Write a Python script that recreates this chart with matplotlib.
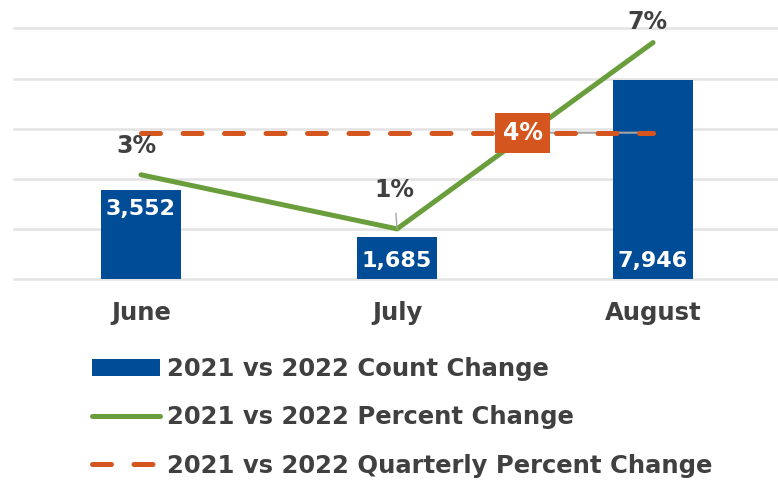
import matplotlib.pyplot as plt
from matplotlib.patches import Patch
from matplotlib.lines import Line2D

# =====================================================
# Data
# =====================================================

months = ["June", "July", "August"]
count_change = [3552, 1685, 7946]
pct_change = [0.028, 0.010, 0.072]
quarterly_pct = [0.042, 0.042, 0.042]

series_names = [
    "2021 vs 2022 Count Change",
    "2021 vs 2022 Percent Change",
    "2021 vs 2022 Quarterly Percent Change",
]

BLUE = "#004C97"
GREEN = "#6A9E3C"
ORANGE = "#D4561E"
TEXT = "#404040"
GRID = "#E3E3E3"
LEADER = "#A6A6A6"
DASH = (3.8, 4.5)

plt.rcParams["font.family"] = "DejaVu Sans"
plt.rcParams["font.weight"] = "bold"

# =====================================================
# Figure / axes
# =====================================================

fig = plt.figure(figsize=(7.78, 4.82), dpi=100)
ax = fig.add_axes([14 / 778, 203 / 482, 764 / 778, 250.5 / 482])

x = list(range(len(months)))

ax.bar(x, count_change, width=0.31, color=BLUE, zorder=2)
ax.set_xlim(-0.496, 2.488)
ax.set_ylim(0, 10000)
ax.set_yticks(range(0, 10001, 2000))
ax.grid(axis="y", color=GRID, lw=1.8)
ax.set_axisbelow(True)
for gl in ax.get_ygridlines():
    gl.set_clip_on(False)
for s in ax.spines.values():
    s.set_visible(False)
ax.set_xticks(x, months)
ax.tick_params(axis="x", length=0, pad=16, labelsize=17.5, labelcolor=TEXT)

# bar labels (June at the top of the bar, the others at the base)
label_at_top = [True, False, False]
for xi, c, top in zip(x, count_change, label_at_top):
    if top:
        ax.annotate(f"{c:,}", (xi, c), xytext=(0, -14), textcoords="offset points",
                    ha="center", va="center", color="white", fontsize=16, zorder=4)
    else:
        ax.annotate(f"{c:,}", (xi, 0), xytext=(0, 13), textcoords="offset points",
                    ha="center", va="center", color="white", fontsize=16, zorder=4)

# =====================================================
# Secondary axis: percent lines
# =====================================================

ax2 = ax.twinx()
ax2.set_ylim(-0.00667, 0.07667)
ax2.set_axis_off()
ax.tick_params(axis="y", left=False, right=False, labelleft=False, labelright=False)

ax2.plot(x, pct_change, color=GREEN, lw=3.6, solid_capstyle="round", zorder=3)
ax2.plot(x, quarterly_pct, color=ORANGE, lw=3.6, dashes=DASH,
         dash_capstyle="round", zorder=3)

pct_offsets = [(-3, 21), (-2, 28), (-4, 15)]
for i, (v, off) in enumerate(zip(pct_change, pct_offsets)):
    kw = {}
    if i == 1:
        kw["arrowprops"] = dict(arrowstyle="-", color=LEADER, lw=1.0,
                                shrinkA=6, shrinkB=0)
    ax2.annotate(f"{v * 100:.0f}%", (x[i], v), xytext=off, textcoords="offset points",
                 ha="center", va="center", fontsize=17, color=TEXT, **kw)

# leader line under the dashes, label box on top
ax2.annotate("", (x[-1], quarterly_pct[-1]), xytext=(-94, 0), textcoords="offset points",
             arrowprops=dict(arrowstyle="-", color=LEADER, lw=1.5, shrinkA=0, shrinkB=0),
             zorder=2)
ax2.annotate(f"{quarterly_pct[-1] * 100:.0f}%", (x[-1], quarterly_pct[-1]),
             xytext=(-94, 0), textcoords="offset points", ha="center", va="center",
             color="white", fontsize=17,
             bbox=dict(boxstyle="square,pad=0.33", fc=ORANGE, ec="none"),
             zorder=5)

# =====================================================
# Legend
# =====================================================

handles = [
    Patch(facecolor=BLUE),
    Line2D([], [], color=GREEN, lw=3.6, solid_capstyle="round"),
    Line2D([], [], color=ORANGE, lw=3.6, dashes=DASH, dash_capstyle="round"),
]
fig.legend(handles, series_names, loc="upper left",
           bbox_to_anchor=(92 / 778, 1 - 357 / 482), frameon=False,
           fontsize=17.5, handlelength=2.8, handletextpad=0.3, labelspacing=1.0,
           borderpad=0, borderaxespad=0, labelcolor=TEXT)

fig.savefig("out.png", dpi=100)
